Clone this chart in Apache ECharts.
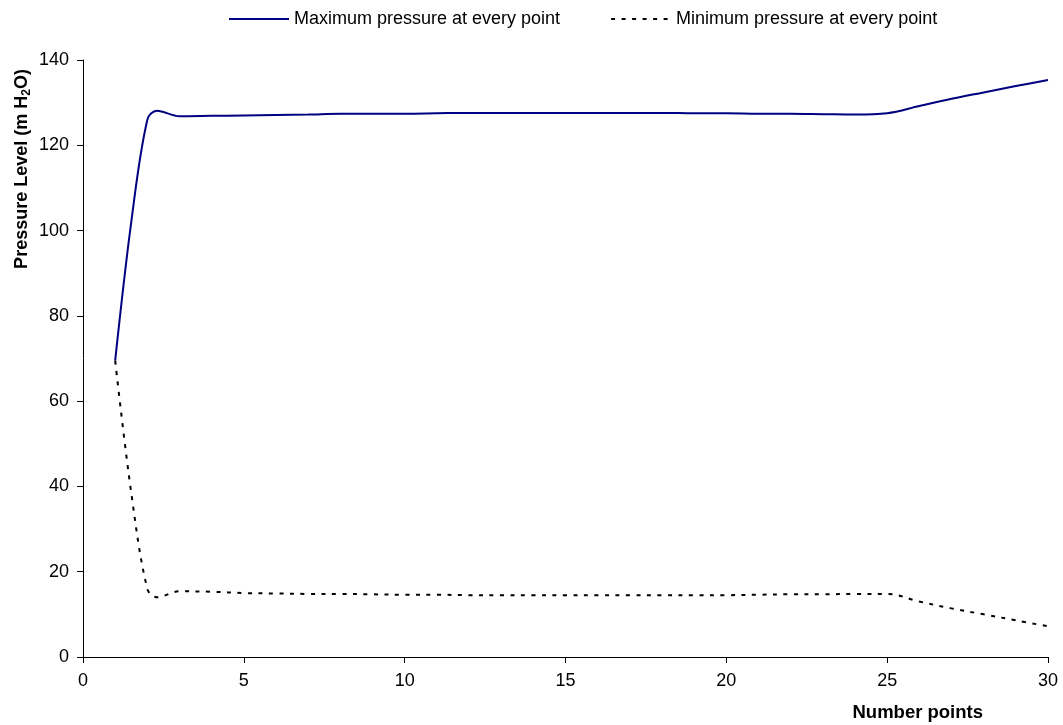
<!DOCTYPE html>
<html>
<head>
<meta charset="utf-8">
<style>
  html, body { margin: 0; padding: 0; background: #fff; }
  #chart { width: 1063px; height: 725px; }
</style>
<script src="https://cdn.jsdelivr.net/npm/echarts@6/dist/echarts.min.js"></script>
</head>
<body>
<div id="chart"></div>
<script>
// Measurement points along the pipe
const pointNo = [1, 1.5, 2, 2.3, 3, 4, 5, 6, 7, 8, 9, 10, 11, 12, 13, 14, 15, 16, 17, 18, 19, 20, 21, 22, 23, 24, 25, 26, 27, 28, 29, 30];

// Pressure envelope (m H2O)
const maxPressure = [69.5, 102, 126, 128.1, 126.8, 126.9, 127.0, 127.1, 127.2, 127.4, 127.4, 127.4, 127.5, 127.6, 127.6, 127.6, 127.6, 127.6, 127.6, 127.6, 127.5, 127.5, 127.4, 127.4, 127.3, 127.2, 127.5, 129.2, 130.9, 132.4, 133.9, 135.3];
const minPressure = [69.5, 38.5, 16, 14.0, 15.4, 15.3, 15.0, 14.9, 14.8, 14.8, 14.7, 14.6, 14.6, 14.5, 14.5, 14.5, 14.5, 14.5, 14.5, 14.5, 14.5, 14.5, 14.6, 14.7, 14.7, 14.8, 14.8, 13.0, 11.4, 10.0, 8.6, 7.2];

const seriesNames = ['Maximum pressure at every point', 'Minimum pressure at every point'];
const xTicks = { min: 0, max: 30, interval: 5 };
const yTicks = { min: 0, max: 140, interval: 20 };

const FONT = '"Liberation Sans", Arial, sans-serif';

const chart = echarts.init(document.getElementById('chart'), null, { renderer: 'canvas' });

chart.setOption({
  backgroundColor: '#ffffff',
  animation: false,
  grid: { left: 83, right: 15, top: 60, bottom: 68, containLabel: false },
  legend: {
    top: 5,
    left: 223,
    itemWidth: 60,
    itemHeight: 20,
    itemGap: 50,
    data: seriesNames,
    itemStyle: { opacity: 0 },
    textStyle: { fontFamily: FONT, fontSize: 18, color: '#000' }
  },
  xAxis: {
    type: 'value',
    min: xTicks.min, max: xTicks.max, interval: xTicks.interval,
    axisLine: { lineStyle: { color: '#000', width: 1 } },
    axisTick: { show: true, inside: false, length: 6, lineStyle: { color: '#000' } },
    axisLabel: { margin: 15, fontFamily: FONT, fontSize: 18, color: '#000' },
    splitLine: { show: false }
  },
  yAxis: {
    type: 'value',
    min: yTicks.min, max: yTicks.max, interval: yTicks.interval,
    axisLine: { show: true, lineStyle: { color: '#000', width: 1 } },
    axisTick: { show: true, inside: false, length: 6, lineStyle: { color: '#000' } },
    axisLabel: { margin: 14, fontFamily: FONT, fontSize: 18, color: '#000' },
    splitLine: { show: false }
  },
  graphic: [
    {
      type: 'text',
      x: 22, y: 169,
      rotation: Math.PI / 2,
      style: {
        text: '{b|Pressure Level (m H}{s|2}{b|O)}',
        align: 'center',
        verticalAlign: 'middle',
        rich: {
          b: { fontFamily: FONT, fontSize: 18, fontWeight: 'bold', fill: '#000', lineHeight: 22 },
          s: { fontFamily: FONT, fontSize: 12, fontWeight: 'bold', fill: '#000', verticalAlign: 'bottom', lineHeight: 22 }
        }
      }
    },
    {
      type: 'text',
      x: 983, y: 713,
      style: {
        text: 'Number points',
        align: 'right',
        verticalAlign: 'middle',
        fontFamily: FONT, fontSize: 18.5, fontWeight: 'bold', fill: '#000'
      }
    }
  ],
  series: [
    {
      name: seriesNames[0],
      type: 'line',
      data: pointNo.map((x, i) => [x, maxPressure[i]]),
      smooth: 0.35,
      symbol: 'none',
      lineStyle: { color: '#000080', width: 2 },
      itemStyle: { color: '#000080' }
    },
    {
      name: seriesNames[1],
      type: 'line',
      data: pointNo.map((x, i) => [x, minPressure[i]]),
      smooth: 0.35,
      symbol: 'none',
      lineStyle: { color: '#000', width: 2, type: [4, 6.5] },
      itemStyle: { color: '#000' }
    }
  ]
});
</script>
</body>
</html>
